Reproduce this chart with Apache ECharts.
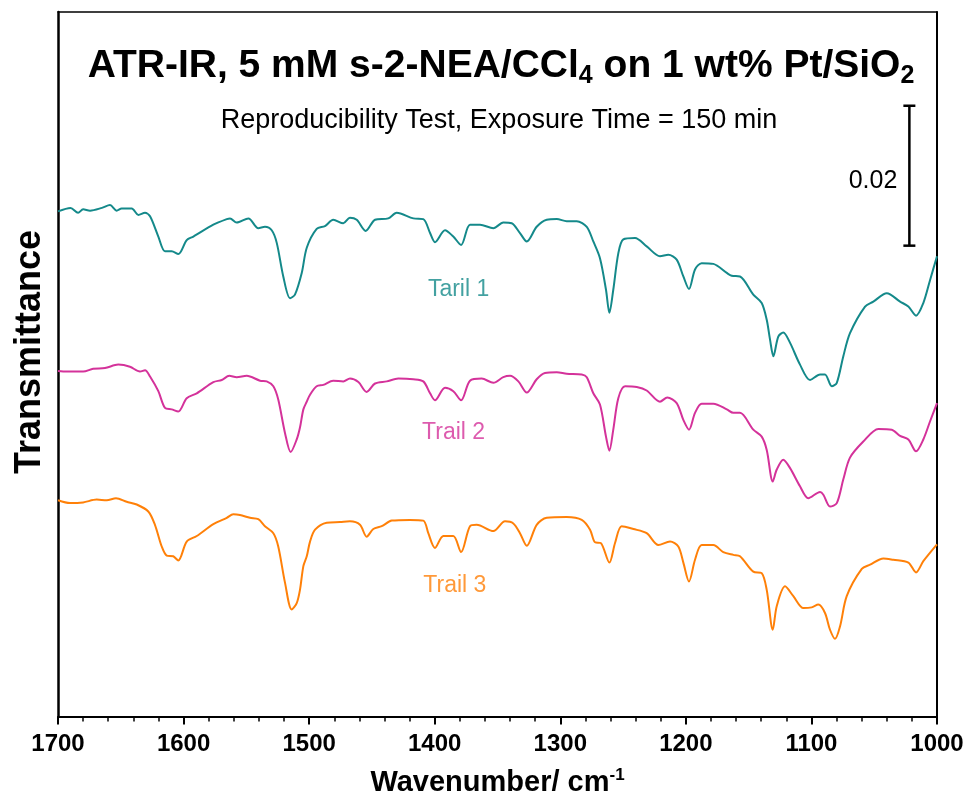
<!DOCTYPE html>
<html>
<head>
<meta charset="utf-8">
<script src="https://cdn.jsdelivr.net/npm/echarts@6/dist/echarts.min.js"></script>
<style>
html,body{margin:0;padding:0;background:#fff;}
#chart{width:971px;height:802px;}
</style>
</head>
<body>
<div id="chart"></div>
<script>
// Wavenumber (cm^-1) and offset transmittance (units of 0.001)
const wn1 = [1700,1690,1684,1680,1674.5,1665,1658.6,1653.3,1649.3,1641.3,1636,1630.7,1626.7,1620.1,1614.8,1609.5,1604.2,1597.5,1592.2,1576.3,1565.6,1563,1557.7,1548.4,1540.5,1535.2,1529.8,1525.8,1520.6,1515.2,1511.3,1505.9,1501.9,1494,1487.4,1480.8,1472.8,1467.5,1462.1,1455,1447.5,1437,1430.3,1417,1409.1,1403.7,1399.8,1391.8,1385.2,1379,1371.9,1363.9,1353.3,1345.4,1338.7,1332.1,1326.7,1318.8,1310.8,1302.8,1294.9,1286.9,1278.9,1273.7,1268.4,1263.6,1260.9,1257.8,1253.8,1249.8,1240.5,1231.2,1220.6,1214,1207.3,1202,1197.5,1192.7,1187.4,1178.1,1167.4,1163.5,1156.9,1146.3,1139.6,1135.6,1133,1130.3,1126.4,1122.4,1117,1109.1,1101.1,1093.1,1089.2,1083.8,1079.8,1074.6,1069.3,1057.3,1050.7,1040,1029.4,1022.8,1016.7,1010.9,1005.5,1000];
const tr1 = [72.2,72.7,72.0,72.5,72.3,72.7,73.1,72.3,72.6,72.6,71.7,72.0,71.5,68.6,66.5,66.5,66.1,68.1,68.6,70.3,71.1,71.2,70.6,71.2,69.8,70.0,69.5,67.7,62.9,59.8,60.3,63.4,67.0,69.7,70.1,71.0,70.5,71.3,71.0,69.4,71.0,71.2,72.0,71.2,71.1,69.1,67.8,69.5,68.6,67.4,70.3,70.3,69.8,70.6,70.5,69.1,67.9,70.0,71.0,71.1,70.8,70.8,70.0,67.9,65.5,61.0,57.7,61.0,66.2,68.2,68.4,67.2,65.8,66.0,65.3,62.9,61.1,63.9,64.8,64.7,63.4,63.0,62.9,60.3,59.1,56.7,53.9,51.5,54.3,54.9,53.4,50.3,48.1,48.9,48.9,47.2,47.7,51.5,54.8,58.6,59.3,60.5,59.3,58.6,57.3,59.1,62.4,65.8];

const wn2 = [1700,1693,1680,1672,1662.6,1652,1642.7,1634.7,1630.7,1626.7,1620.1,1614.8,1609.5,1604.2,1597.5,1589.5,1576.3,1569.6,1563.6,1557.7,1549.7,1539.1,1533.8,1528.5,1524.6,1519.2,1514.7,1509.9,1507.3,1504.6,1501.9,1499.3,1494,1488.7,1480.8,1472.8,1467.5,1460.8,1454.2,1447.5,1438.2,1429,1417,1409.1,1403.7,1399.8,1391.8,1385.2,1379,1371.9,1362.6,1353.3,1345.4,1340,1333.4,1326.7,1318.8,1312.2,1302.8,1294.9,1282.9,1278.9,1273.7,1268.4,1263.6,1260.9,1257.8,1253.8,1248.4,1239.1,1231.2,1220.6,1214.8,1207.3,1202,1197.5,1192.7,1187.4,1178.1,1167.4,1162.2,1156.9,1146.3,1139.6,1135.6,1130.8,1127.6,1122.4,1117,1109.1,1102.5,1093.1,1090.5,1085.2,1079.8,1074.6,1069.3,1058.7,1046.7,1036,1029.4,1022.8,1016.7,1010.9,1005.5,1000];
const tr2 = [49.4,49.3,49.3,49.7,49.8,50.3,50.0,49.3,49.5,48.6,46.5,44.1,43.9,43.6,45.5,46.2,47.8,48.1,48.7,48.5,48.7,48.0,47.9,47.2,45.3,40.5,37.8,39.6,41.3,43.9,45.0,46.0,47.2,47.4,48.0,47.9,48.3,47.8,46.4,47.6,47.9,48.3,48.2,47.9,46.2,45.2,47.0,46.5,45.2,48.0,48.3,47.7,48.5,48.7,47.9,46.3,48.2,49.1,49.2,49.0,48.9,48.5,46.2,44.6,40.0,38.0,41.0,45.5,47.2,47.1,46.6,45.0,45.6,44.8,42.4,41.0,43.4,44.7,44.7,43.9,43.4,43.4,41.0,40.0,38.1,33.6,35.3,36.7,35.5,32.9,31.2,32.1,31.7,30.0,30.5,33.9,37.0,39.3,41.1,41.0,40.1,39.6,37.9,39.6,42.2,44.8];

const wn3 = [1700,1690.4,1680,1669.2,1661.2,1653.8,1645.3,1637.3,1628.1,1622.8,1617.4,1613.4,1608.2,1604.2,1597.5,1589.5,1576.3,1565.6,1560.4,1555.1,1547.1,1540.5,1535.2,1528.5,1524.6,1519.2,1513.9,1509.9,1507.3,1504.6,1501.9,1499.3,1495.3,1486,1475.4,1467.5,1459.5,1454.2,1448.9,1442.2,1434.2,1419.7,1409.1,1405.1,1399.8,1393.1,1385.2,1379,1371.9,1366.6,1353.3,1344,1337.4,1332.1,1326.7,1318.8,1310.8,1294.9,1282.9,1276.3,1272.3,1267.8,1260.9,1256.4,1251.1,1241.8,1231.2,1221.9,1212.6,1206,1202,1197.5,1192.7,1187.4,1178.1,1170.2,1162.2,1156.9,1146.3,1139.6,1135.6,1130.8,1127.6,1121,1114.4,1106.4,1099.8,1094.5,1089.2,1085.2,1081.2,1077.2,1071.9,1059.9,1053.3,1042.7,1034.8,1022.8,1016.7,1010.9,1000];
const tr3 = [30.9,30.5,30.6,31.0,30.9,31.2,30.7,30.3,29.3,27.4,24.3,23.0,22.9,22.3,25.0,25.8,27.5,28.4,28.9,28.8,28.4,28.2,27.2,26.2,24.3,19.1,15.3,16.2,18.1,21.5,22.9,25.0,26.7,27.7,27.8,27.9,27.4,25.7,26.8,27.2,28.0,28.1,28.0,26.2,24.1,25.8,25.8,23.5,27.2,27.4,26.5,27.9,27.6,26.2,24.4,27.4,28.4,28.5,28.1,26.7,24.9,24.8,22.0,24.8,27.2,26.8,26.2,24.5,25.0,24.3,22.0,19.3,22.4,24.5,24.5,23.5,23.1,22.9,20.7,20.5,18.1,12.4,15.8,18.6,17.2,15.5,15.6,16.0,14.8,12.4,11.1,12.9,17.2,21.1,21.7,22.6,22.4,22.0,20.6,22.2,24.6];

const seriesNames = ['Taril 1', 'Trail 2', 'Trail 3'];
const seriesColors = ['#14898a', '#d4329a', '#ff8008'];
const labelWn = [1381, 1385, 1384];
const labelVal = [61.0, 40.6, 18.7];

const xTicks = [1700, 1600, 1500, 1400, 1300, 1200, 1100, 1000];
const scaleBarWn = 1022;
const scaleBarRange = [67.3, 87.3];   // 0.02 = 20 units
const scaleBarText = '0.02';

const FONT = 'Liberation Sans, Arial, sans-serif';

function pairs(xs, ys) { return xs.map((x, i) => [x, ys[i]]); }
const allWn = [wn1, wn2, wn3];
const allTr = [tr1, tr2, tr3];

const chart = echarts.init(document.getElementById('chart'), null, {renderer: 'canvas'});

const lineSeries = allWn.map((w, i) => ({
  type: 'line',
  name: seriesNames[i],
  data: pairs(w, allTr[i]),
  showSymbol: false,
  smooth: 0.3,
  lineStyle: {color: seriesColors[i], width: 2},
  itemStyle: {color: seriesColors[i]},
  silent: true,
  z: 3
}));

const labelSeries = {
  type: 'scatter',
  symbolSize: 0,
  silent: true,
  data: labelWn.map((w, i) => ({
    value: [w, labelVal[i]],
    label: {
      show: true, position: 'inside', formatter: seriesNames[i],
      color: seriesColors[i], fontSize: 23, fontFamily: FONT
    }
  })),
  z: 4
};

const scaleBarSeries = {
  type: 'custom',
  silent: true,
  data: [[scaleBarWn, scaleBarRange[0], scaleBarRange[1]]],
  renderItem: function (params, api) {
    const p0 = api.coord([api.value(0), api.value(1)]);
    const p1 = api.coord([api.value(0), api.value(2)]);
    const cap = 6;
    const st = {stroke: '#000', lineWidth: 2.5};
    return {
      type: 'group',
      children: [
        {type: 'line', shape: {x1: p0[0], y1: p0[1], x2: p1[0], y2: p1[1]}, style: st},
        {type: 'line', shape: {x1: p0[0] - cap, y1: p0[1], x2: p0[0] + cap, y2: p0[1]}, style: st},
        {type: 'line', shape: {x1: p1[0] - cap, y1: p1[1], x2: p1[0] + cap, y2: p1[1]}, style: st},
        {type: 'text', style: {text: scaleBarText, x: p0[0] - 12, y: (p0[1] + p1[1]) / 2 + 5,
          textAlign: 'right', textVerticalAlign: 'middle', fontSize: 25, fontFamily: FONT, fill: '#000'}}
      ]
    };
  },
  z: 5
};

const option = {
  animation: false,
  backgroundColor: '#fff',
  grid: {left: 58, right: 34, top: 12, bottom: 85, containLabel: false},
  graphic: [
    {
      type: 'text', x: 501, y: 66,
      style: {
        text: '{b|ATR-IR, 5 mM s-2-NEA/CCl}{s|4}{b| on 1 wt% Pt/SiO}{s|2}',
        textAlign: 'center', textVerticalAlign: 'middle',
        rich: {
          b: {fontSize: 39, fontWeight: 'bold', fontFamily: FONT, fill: '#000', lineHeight: 46},
          s: {fontSize: 25, fontWeight: 'bold', fontFamily: FONT, fill: '#000', lineHeight: 20, verticalAlign: 'bottom'}
        }
      }
    },
    {
      type: 'text', x: 499, y: 121,
      style: {
        text: 'Reproducibility Test, Exposure Time = 150 min',
        textAlign: 'center', textVerticalAlign: 'middle',
        fontSize: 27, fontFamily: FONT, fill: '#000'
      }
    },
    {
      type: 'text', x: 30, y: 352, rotation: Math.PI / 2,
      style: {
        text: 'Transmittance',
        textAlign: 'center', textVerticalAlign: 'middle',
        fontSize: 36, fontWeight: 'bold', fontFamily: FONT, fill: '#000'
      }
    }
  ],
  xAxis: [
    {
      type: 'value', min: 1000, max: 1700, interval: 100, inverse: true, position: 'bottom',
      axisLine: {show: true, onZero: false, lineStyle: {color: '#000', width: 2}},
      axisTick: {show: true, inside: false, length: 8, lineStyle: {color: '#000', width: 2}},
      minorTick: {show: true, splitNumber: 5, length: 5, lineStyle: {color: '#000', width: 1.5}},
      axisLabel: {show: true, margin: 16, fontSize: 24, fontWeight: 'bold', fontFamily: FONT, color: '#000',
        formatter: function (v) { return xTicks.indexOf(v) >= 0 ? String(v) : ''; }},
      splitLine: {show: false},
      name: '{b|Wavenumber/ cm}{s|-1}',
      nameLocation: 'middle', nameGap: 50,
      nameTextStyle: {
        rich: {
          b: {fontSize: 29, fontWeight: 'bold', fontFamily: FONT, color: '#000', lineHeight: 32},
          s: {fontSize: 17, fontWeight: 'bold', fontFamily: FONT, color: '#000', lineHeight: 16, verticalAlign: 'top'}
        }
      }
    },
    {
      type: 'value', min: 1000, max: 1700, inverse: true, position: 'top',
      axisLine: {show: true, onZero: false, lineStyle: {color: '#000', width: 1.5}},
      axisTick: {show: false}, axisLabel: {show: false}, splitLine: {show: false}
    }
  ],
  yAxis: [
    {
      type: 'value', min: 0, max: 100.7, position: 'left',
      axisLine: {show: true, onZero: false, lineStyle: {color: '#000', width: 2.5}},
      axisTick: {show: false}, axisLabel: {show: false}, splitLine: {show: false}
    },
    {
      type: 'value', min: 0, max: 100.7, position: 'right',
      axisLine: {show: true, onZero: false, lineStyle: {color: '#000', width: 2}},
      axisTick: {show: false}, axisLabel: {show: false}, splitLine: {show: false}
    }
  ],
  series: lineSeries.concat([labelSeries, scaleBarSeries])
};

chart.setOption(option);
</script>
</body>
</html>
